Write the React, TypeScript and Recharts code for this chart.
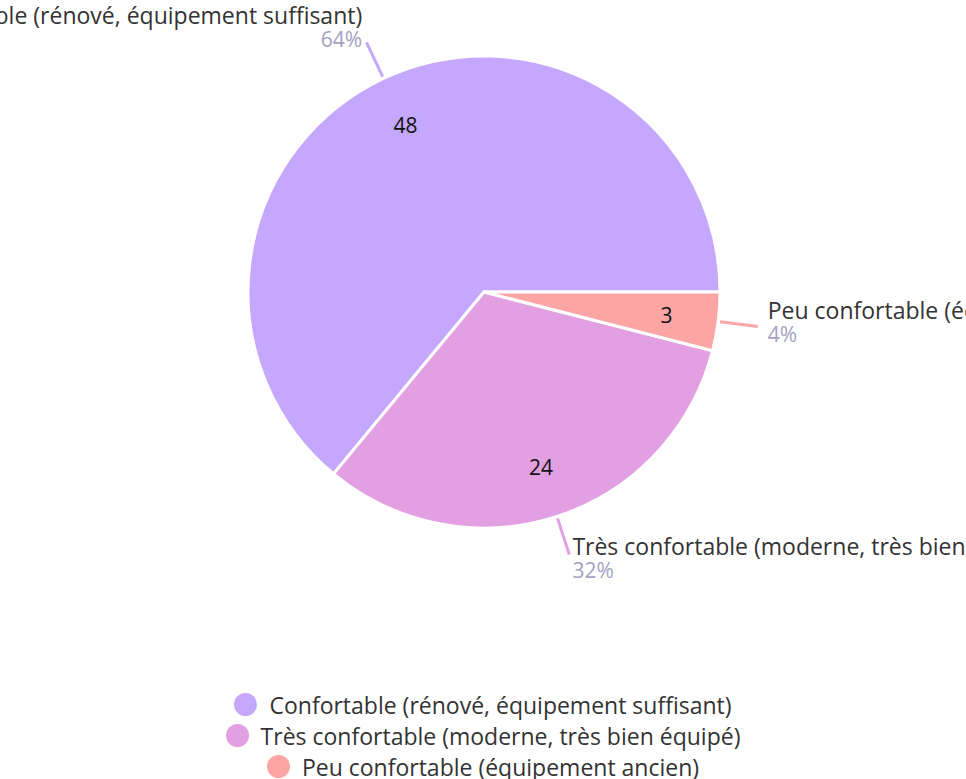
import React from "react";
import { PieChart, Pie, Cell, Legend } from "recharts";

const categories = [
  "Confortable (rénové, équipement suffisant)",
  "Très confortable (moderne, très bien équipé)",
  "Peu confortable (équipement ancien)",
];
const counts = [48, 24, 3];
const colors = ["#c5a7fd", "#e2a0e2", "#fca5a5"];

const data = categories.map((name, i) => ({ name, value: counts[i] }));

const FONT = "'Open Sans', 'Noto Sans', sans-serif";
const RAD = Math.PI / 180;

const renderLabel = (props: any) => {
  const { cx, cy, midAngle, outerRadius, name, value, percent, fill } = props;
  const cos = Math.cos(-midAngle * RAD);
  const sin = Math.sin(-midAngle * RAD);
  const p = (r: number) => ({ x: cx + r * cos, y: cy + r * sin });
  const a = p(outerRadius + 2);
  const b = p(outerRadius + 40);
  const t = p(outerRadius + 50);
  const inner = p(outerRadius * 0.78);
  const anchor = cos >= 0 ? "start" : "end";
  return (
    <g>
      <line x1={a.x} y1={a.y} x2={b.x} y2={b.y} stroke={fill} strokeWidth={3} />
      <text
        x={inner.x}
        y={inner.y}
        textAnchor="middle"
        dominantBaseline="central"
        fill="#111"
        fontSize={21}
        fontFamily={FONT}
      >
        {value}
      </text>
      <text
        x={t.x}
        y={t.y - 18}
        textAnchor={anchor}
        dominantBaseline="central"
        fill="#333"
        fontSize={23}
        fontFamily={FONT}
      >
        {name}
      </text>
      <text
        x={t.x}
        y={t.y + 6}
        textAnchor={anchor}
        dominantBaseline="central"
        fill="#a3a2c0"
        fontSize={21}
        fontFamily={FONT}
      >
        {`${Math.round(percent * 100)}%`}
      </text>
    </g>
  );
};

const renderLegend = () => (
  <div style={{ textAlign: "center", fontFamily: FONT }}>
    {data.map((d, i) => (
      <div key={d.name} style={{ height: 31, lineHeight: "31px", whiteSpace: "nowrap" }}>
        <span
          style={{
            display: "inline-block",
            width: 23,
            height: 23,
            borderRadius: "50%",
            background: colors[i],
            verticalAlign: "middle",
            marginRight: 12,
            marginTop: -3,
          }}
        />
        <span style={{ fontSize: 23, color: "#333", verticalAlign: "middle" }}>{d.name}</span>
      </div>
    ))}
  </div>
);

export default function App() {
  return (
    <div style={{ position: "absolute", left: 0, top: 0, width: 966, height: 779, background: "#fff" }}>
      <PieChart width={966} height={779}>
        <Pie
          data={data}
          dataKey="value"
          nameKey="name"
          cx={479}
          cy={287}
          outerRadius={236}
          startAngle={0}
          endAngle={360}
          stroke="#fff"
          strokeWidth={3}
          label={renderLabel}
          labelLine={false}
          isAnimationActive={false}
        >
          {data.map((d, i) => (
            <Cell key={d.name} fill={colors[i]} />
          ))}
        </Pie>
        <Legend
          content={renderLegend}
          wrapperStyle={{ left: 0, width: 966, top: 689 }}
        />
      </PieChart>
    </div>
  );
}
